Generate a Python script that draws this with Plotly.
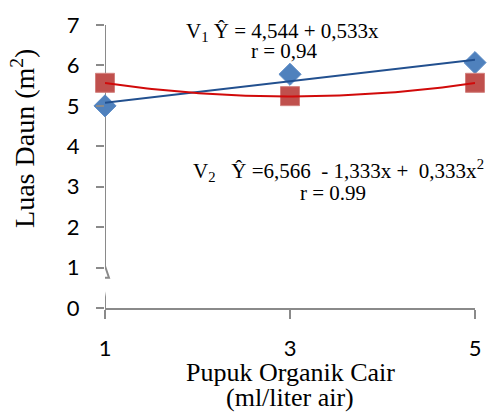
import numpy as np
import plotly.graph_objects as go

# ---- data ----
dose = [1, 3, 5]                       # Pupuk Organik Cair (ml/liter air)
v1_area = [5.0, 5.78, 6.07]            # V1 Luas Daun
v2_area = [5.57, 5.24, 5.57]           # V2 Luas Daun
v1_coef = [4.544, 0.533]               # V1: Y = a + b*x  (x coded 1..3)
v2_coef = [6.566, -1.333, 0.333]       # V2: Y = a + b*x + c*x^2
y_ticks = [0, 1, 2, 3, 4, 5, 6, 7]
x_ticks = [1, 3, 5]

# trend curves from the regression coefficients
xs = np.linspace(min(dose), max(dose), 80)
code = (xs + 1) / 2
v1_fit = v1_coef[0] + v1_coef[1] * code
v2_fit = v2_coef[0] + v2_coef[1] * code + v2_coef[2] * code ** 2

SERIF = "Liberation Serif"
SANS = "Lato"
AX = "#8a8a8a"

fig = go.Figure()
fig.add_trace(go.Scatter(x=dose, y=v1_area, mode="markers", cliponaxis=False,
                         marker=dict(symbol="diamond", size=17, color="#4f81bd",
                                     line=dict(color="#5b8bc6", width=1))))
fig.add_trace(go.Scatter(x=dose, y=v2_area, mode="markers", cliponaxis=False,
                         marker=dict(symbol="square", size=19, color="#c0504d",
                                     line=dict(color="#d2807d", width=1))))
fig.add_trace(go.Scatter(x=xs, y=v1_fit, mode="lines",
                         line=dict(color="#22508f", width=2), hoverinfo="skip"))
fig.add_trace(go.Scatter(x=xs, y=v2_fit, mode="lines",
                         line=dict(color="#d10a0a", width=2), hoverinfo="skip"))

# y axis line with a break near 1
fig.add_shape(type="path", xref="x", yref="y",
              path="M 1 7 L 1 1.04 L 1.043 0.75 L 0.963 0.75 L 1 0.27 L 1 0",
              line=dict(color=AX, width=2), layer="below")

L, R, T, B = 105, 11, 19, 106
W, H = 492, 414
pw, ph = W - L - R, H - T - B

def px(x):
    return (x - L) / pw

def py(y):
    return 1 - (y - T) / ph

def ann(text, x, y, size, angle=0):
    fig.add_annotation(text=text, x=px(x), y=py(y), xref="paper", yref="paper",
                       xanchor="center", yanchor="middle", showarrow=False,
                       textangle=angle, font=dict(family=SERIF, size=size, color="#000"))

ann("V<sub>1</sub> Ŷ = 4,544 + 0,533x", 285, 26, 21)
ann("r = 0,94", 287, 46, 21)
ann("V<sub>2</sub>   Ŷ =6,566  - 1,333x +  0,333x<sup>2</sup>", 342, 168, 21)
ann("r = 0.99", 337, 191, 21)
ann("Luas Daun (m<sup>2</sup>)", 22, 135, 28, angle=-90)
ann("Pupuk Organik Cair", 293, 374, 26)
ann("(ml/liter air)", 293, 399, 26)

fig.update_layout(
    width=W, height=H, margin=dict(l=L, r=R, t=T, b=B),
    paper_bgcolor="white", plot_bgcolor="white", showlegend=False,
    xaxis=dict(range=[1, 5], tickvals=x_ticks, ticks="outside", ticklen=9,
               tickwidth=2, tickcolor=AX, showline=True, linecolor=AX, linewidth=2,
               showgrid=False, zeroline=False, ticklabelstandoff=11,
               tickfont=dict(family=SANS, size=22, color="#000")),
    yaxis=dict(range=[0, 7], tickvals=y_ticks, ticks="outside", ticklen=8,
               tickwidth=2, tickcolor=AX, showline=False,
               showgrid=False, zeroline=False, ticklabelstandoff=12,
               tickfont=dict(family=SANS, size=22, color="#000")),
)

fig.write_html("out.html", config={"displayModeBar": False},
               post_script="document.body.style.margin='0';document.body.style.overflow='hidden';")
